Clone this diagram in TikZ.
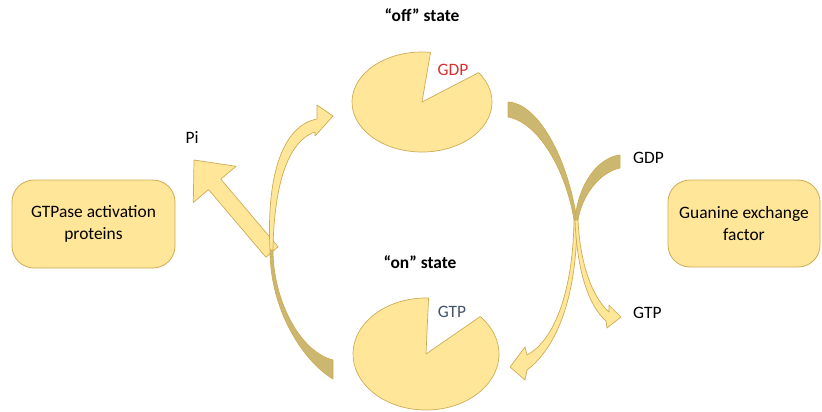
\documentclass[tikz,border=0pt]{standalone}
\usepackage{fontspec}
\setmainfont{Carlito}
\definecolor{paleGold}{RGB}{255,230,153}
\definecolor{edgeGold}{RGB}{206,172,84}
\definecolor{backGold}{RGB}{204,183,112}
\definecolor{gdpRed}{RGB}{214,48,48}
\definecolor{gtpBlue}{RGB}{68,84,106}
\begin{document}
\begin{tikzpicture}[x=1pt,y=-1pt,
  box/.style={draw=edgeGold, fill=paleGold, rounded corners=22pt, line width=0.8pt,
    align=center, font=\fontsize{17.4}{21.5}\selectfont},
  front/.style={draw=edgeGold, fill=paleGold, line width=0.7pt, line join=round},
  back/.style={draw=edgeGold, fill=backGold, line width=0.7pt, line join=round},
  lbl/.style={font=\fontsize{17.4}{21}\selectfont},
  ttl/.style={font=\bfseries\fontsize{17.4}{21}\selectfont}]
\useasboundingbox (0,0) rectangle (822,412);

% regulator boxes
\node[box, minimum width=163pt, minimum height=88pt] (gap) at (93.5,224) {GTPase activation\\proteins};
\node[box, minimum width=152pt, minimum height=87pt] (gef) at (744,223.5) {Guanine exchange\\factor};

% Pi release arrow
\draw[front] (278.1,246.8) -- (220.8,179.2) -- (236.1,166.3) -- (194,160)
  -- (193.3,202.5) -- (208.6,189.6) -- (265.9,257.2) -- cycle;

% protein in the "off" and "on" states
\coordinate (offc) at (422,102);
\coordinate (onc) at (426,354);
\draw[front] (offc) -- ++(-83:70 and 50)
  arc[start angle=-83, end angle=-396, x radius=70, y radius=50] -- cycle;
\draw[front] (onc) -- ++(-88:73 and 56)
  arc[start angle=-88, end angle=-402, x radius=73, y radius=56] -- cycle;

% left curved arrow: on -> off
\draw[back] (333,360) -- (333,379) .. controls (303,361) and (270,310) .. (270,250)
  -- (273,250) .. controls (273,300) and (300,352) .. (333,360) -- cycle;
\draw[front] (270,250) .. controls (266,170) and (285,125) .. (317,119)
  -- (317,105) -- (333,116) -- (315,136) -- (315,132)
  .. controls (290,140) and (274,180) .. (273,250) -- cycle;

% right curved arrow: off -> on
\draw[back] (508,102) .. controls (535,103) and (566,150) .. (577,220)
  -- (574,220) .. controls (566,170) and (538,122) .. (508,117) -- cycle;
% nucleotide exchange arrow: GDP -> GTP
\draw[back] (620,155) .. controls (597,158) and (578,185) .. (575,220)
  -- (578,220) .. controls (582,195) and (600,172) .. (620,168) -- cycle;
\draw[front] (577,220) .. controls (577,290) and (560,345) .. (527,370)
  -- (525,380) -- (510,367) -- (525,347) -- (527,355)
  .. controls (555,340) and (573,290) .. (574,220) -- cycle;
\draw[front] (575,220) .. controls (577,270) and (588,305) .. (606,321)
  -- (607,328) -- (621,317) -- (609,305) -- (609,312)
  .. controls (593,298) and (580,265) .. (578,220) -- cycle;

% labels
\node[ttl] (offlbl) at (422,15) {“off” state};
\node[ttl] (onlbl) at (420,262) {“on” state};
\node[lbl, text=gdpRed] (gdpin) at (453,70) {GDP};
\node[lbl, text=gtpBlue] (gtpin) at (452,312) {GTP};
\node[lbl] (pi) at (192,138) {Pi};
\node[lbl, anchor=west, inner sep=0pt] (gdpout) at (633,158) {GDP};
\node[lbl, anchor=west, inner sep=0pt] (gtpout) at (633,313) {GTP};
\end{tikzpicture}
\end{document}
